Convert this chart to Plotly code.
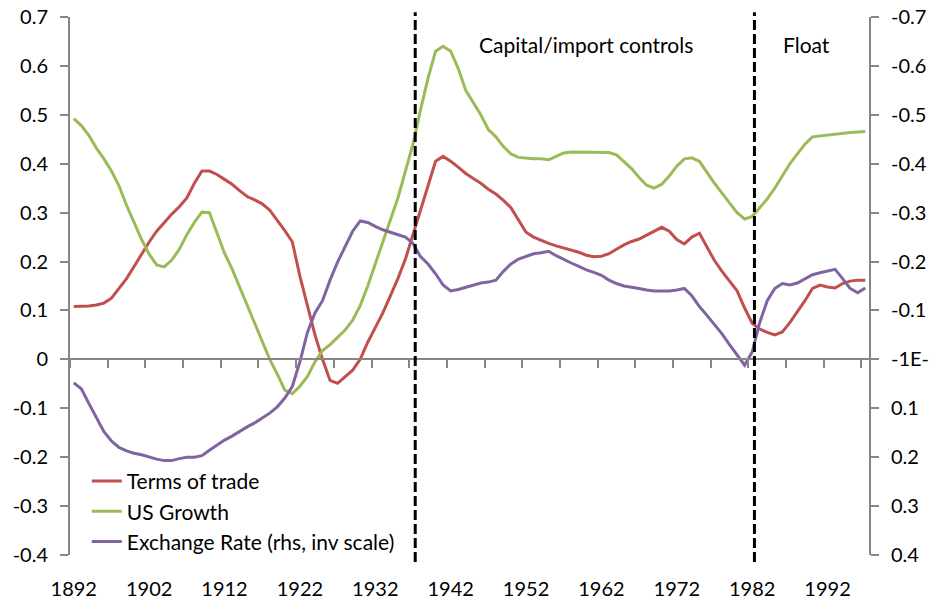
import numpy as np
import plotly.graph_objects as go

years = list(range(1892, 1998))

terms_of_trade = [
    0.108, 0.108, 0.109, 0.111, 0.115, 0.125, 0.145, 0.165, 0.19, 0.215,
    0.24, 0.262, 0.28, 0.297, 0.312, 0.33, 0.36, 0.385, 0.385, 0.378,
    0.368, 0.358, 0.345, 0.333, 0.326, 0.318, 0.305, 0.285, 0.263, 0.24,
    0.17, 0.11, 0.05, 0.0, -0.043, -0.049, -0.035, -0.022, 0.0, 0.035,
    0.065, 0.095, 0.13, 0.165, 0.205, 0.255, 0.31, 0.36, 0.405, 0.415,
    0.405, 0.393, 0.38, 0.37, 0.36, 0.348, 0.338, 0.325, 0.31, 0.285,
    0.26, 0.25, 0.243, 0.237, 0.232, 0.228, 0.223, 0.219, 0.213, 0.21,
    0.211, 0.216, 0.225, 0.234, 0.241, 0.246, 0.254, 0.262, 0.27, 0.262,
    0.245, 0.236, 0.25, 0.258, 0.23, 0.202, 0.18, 0.16, 0.14, 0.105,
    0.074, 0.062, 0.055, 0.05, 0.056, 0.075, 0.097, 0.12, 0.145, 0.152,
    0.148, 0.146, 0.155, 0.16, 0.162, 0.162,
]

us_growth = [
    0.492, 0.478, 0.458, 0.432, 0.41, 0.385, 0.355, 0.315, 0.28, 0.245,
    0.215, 0.193, 0.189, 0.203, 0.225, 0.255, 0.28, 0.301, 0.3, 0.26,
    0.217, 0.185, 0.148, 0.112, 0.075, 0.035, 0.0, -0.03, -0.063, -0.07,
    -0.055, -0.035, -0.005, 0.018, 0.03, 0.045, 0.06, 0.08, 0.11, 0.15,
    0.195, 0.24, 0.285, 0.33, 0.385, 0.44, 0.51, 0.575, 0.63, 0.64,
    0.63, 0.595, 0.55, 0.525, 0.5, 0.47, 0.455, 0.435, 0.42, 0.413,
    0.411, 0.41, 0.41, 0.408, 0.415, 0.422, 0.424, 0.424, 0.424, 0.424,
    0.424, 0.423, 0.418, 0.405, 0.39, 0.372, 0.356, 0.35, 0.358, 0.375,
    0.395, 0.41, 0.412, 0.405, 0.382, 0.36, 0.34, 0.32, 0.3, 0.287,
    0.292, 0.31, 0.328, 0.35, 0.375, 0.4, 0.42, 0.44, 0.455, 0.457,
    0.458, 0.46, 0.462, 0.464, 0.465, 0.466,
]

# rhs values, plotted on an inverted axis
exchange_rate = [
    0.048, 0.06, 0.09, 0.12, 0.148, 0.167, 0.18, 0.187, 0.192, 0.195,
    0.2, 0.204, 0.207, 0.207, 0.203, 0.2, 0.2, 0.197, 0.186, 0.175,
    0.165, 0.157, 0.147, 0.138, 0.13, 0.12, 0.11, 0.097, 0.079, 0.055,
    0.005, -0.055, -0.095, -0.12, -0.162, -0.199, -0.232, -0.262, -0.283, -0.28,
    -0.272, -0.265, -0.26, -0.255, -0.25, -0.237, -0.21, -0.195, -0.175, -0.152,
    -0.14, -0.143, -0.147, -0.152, -0.156, -0.158, -0.162, -0.18, -0.195, -0.205,
    -0.211, -0.216, -0.218, -0.221, -0.212, -0.204, -0.197, -0.19, -0.183, -0.178,
    -0.172, -0.162, -0.155, -0.15, -0.148, -0.145, -0.142, -0.14, -0.14, -0.14,
    -0.142, -0.145, -0.13, -0.108, -0.09, -0.072, -0.052, -0.03, -0.008, 0.012,
    -0.015, -0.075, -0.12, -0.145, -0.155, -0.152, -0.156, -0.165, -0.173, -0.177,
    -0.18, -0.184, -0.165, -0.145, -0.136, -0.146,
]

regime_breaks = [1937.3, 1982.3]
regime_labels = ["Capital/import controls", "Float"]
regime_label_x = [1960.0, 1989.2]

left_ticks = [0.7, 0.6, 0.5, 0.4, 0.3, 0.2, 0.1, 0, -0.1, -0.2, -0.3, -0.4]
left_text = ["0.7", "0.6", "0.5", "0.4", "0.3", "0.2", "0.1", "0",
             "-0.1", "-0.2", "-0.3", "-0.4"]
right_ticks = [-0.7, -0.6, -0.5, -0.4, -0.3, -0.2, -0.1, 0, 0.1, 0.2, 0.3, 0.4]
right_text = ["-0.7", "-0.6", "-0.5", "-0.4", "-0.3", "-0.2", "-0.1", "-1E-1",
              "0.1", "0.2", "0.3", "0.4"]
x_labels = list(range(1892, 1993, 10))
x_ticks = list(np.arange(1891.5, 1997, 5))

RED = "#C0504D"
GREEN = "#9BBB59"
PURPLE = "#8064A2"
GREY = "#868686"
FONT = "Lato"

fig = go.Figure()

fig.add_trace(go.Scatter(x=years, y=terms_of_trade, mode="lines", name="Terms of trade",
                         line=dict(color=RED, width=3), legendgroup="a"))
fig.add_trace(go.Scatter(x=years, y=us_growth, mode="lines", name="US Growth",
                         line=dict(color=GREEN, width=3), legendgroup="b"))
fig.add_trace(go.Scatter(x=years, y=exchange_rate, mode="lines",
                         name="Exchange Rate (rhs, inv scale)",
                         line=dict(color=PURPLE, width=3), legendgroup="c",
                         xaxis="x2", yaxis="y2"))

for xb in regime_breaks:
    fig.add_shape(type="line", xref="x", yref="paper", x0=xb, x1=xb, y0=-0.013, y1=1.009,
                  line=dict(color="black", width=3, dash="10px,4px"))

for txt, xl in zip(regime_labels, regime_label_x):
    fig.add_annotation(x=xl, y=0.644, xref="x", yref="y", text=txt, showarrow=False,
                       font=dict(family=FONT, size=21, color="black"))

# the page body adds an 8px offset, so margins are shifted to compensate
xrange = [1891.5, 1997.5]
fig.update_layout(
    width=939, height=603,
    margin=dict(l=62, r=78, t=9, b=56),
    plot_bgcolor="white", paper_bgcolor="white",
    font=dict(family=FONT, size=20, color="black"),
    showlegend=True,
    legend=dict(x=0.021, y=0.175, xanchor="left", yanchor="top",
                bgcolor="rgba(0,0,0,0)", font=dict(family=FONT, size=21),
                tracegroupgap=0, traceorder="grouped", itemwidth=30),
    xaxis=dict(range=xrange, tickvals=x_labels, ticks="", showline=False,
               showgrid=False, zeroline=False, ticklabelstandoff=20,
               automargin=False),
    xaxis2=dict(range=xrange, overlaying="x", anchor="free", position=0.4 / 1.1,
                side="bottom", tickvals=x_ticks, ticks="outside", ticklen=8,
                tickcolor=GREY, tickwidth=2, showline=True, linecolor=GREY,
                linewidth=2, showticklabels=False, showgrid=False, zeroline=False,
                automargin=False),
    yaxis=dict(range=[-0.4, 0.7], tickvals=left_ticks, ticktext=left_text,
               ticks="outside", ticklen=8, tickcolor=GREY, tickwidth=2,
               showline=True, linecolor=GREY, linewidth=2, showgrid=False,
               zeroline=False, ticklabelstandoff=8, automargin=False,
               ticklabeloverflow="allow"),
    yaxis2=dict(range=[0.4, -0.7], tickvals=right_ticks, ticktext=right_text,
                overlaying="y", side="right", anchor="x2",
                ticks="outside", ticklen=8, tickcolor=GREY, tickwidth=2,
                showline=True, linecolor=GREY, linewidth=2, showgrid=False,
                zeroline=False, ticklabelstandoff=8, automargin=False,
                ticklabeloverflow="allow"),
)

fig.write_html("out.html")
